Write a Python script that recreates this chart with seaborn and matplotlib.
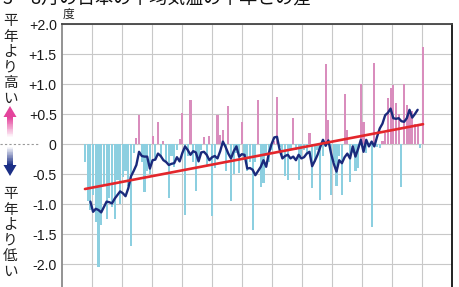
import numpy as np
import pandas as pd
import matplotlib
matplotlib.use("Agg")
import matplotlib.pyplot as plt
import seaborn as sns
from matplotlib.patches import Polygon, Rectangle
from matplotlib.lines import Line2D

# ---------------- data ----------------
years = list(range(1898, 2024))
anomaly = [
    -0.30, -0.95, -1.10, -0.85, -1.30, -2.05, -1.35, -0.70, -1.25, -0.90,
    -1.05, -1.25, -0.60, -1.00, -0.55, -0.45, -0.70, -1.70, -0.15, 0.10,
    0.48, -0.30, -0.80, -0.45, -0.50, 0.13, -0.25, 0.37, -0.20, 0.05,
    -0.30, -0.90, -0.20, -0.38, -0.10, 0.09, 0.51, -1.18, -0.20, 0.73,
    -0.30, -0.78, -0.25, -0.10, 0.12, -0.35, 0.13, -1.20, -0.40, 0.48,
    0.15, 0.23, -0.45, 0.63, -0.95, -0.50, -0.15, -0.49, 0.37, -0.25,
    -0.45, -0.30, -1.43, -0.30, 0.73, -0.71, -0.65, -0.20, -0.30, -0.10,
    0.05, 0.78, -0.05, -0.20, -0.54, -0.60, -0.10, 0.43, -0.10, -0.60,
    -0.20, -0.10, -0.15, 0.18, -0.74, -0.30, -0.10, -0.93, -0.20, 1.33,
    0.40, -0.85, -0.30, -0.70, -0.20, -0.85, 0.84, 0.23, -0.63, -0.15,
    -0.45, -0.40, 1.00, 0.37, -0.15, -0.05, -1.38, 1.35, -0.05, -0.07,
    0.05, 0.18, 0.77, 0.93, 0.98, 0.68, 0.50, -0.71, 1.00, 0.65,
    0.57, 0.55, 0.34, 0.30, -0.07, 1.62,
]
rm_years = list(range(1900, 2022))
running_mean = [
    -0.96, -1.13, -1.08, -1.10, -1.14, -1.05, -0.96, -0.97, -0.99, -0.91,
    -0.85, -0.79, -0.82, -0.87, -0.74, -0.54, -0.45, -0.35, -0.13, -0.20,
    -0.21, -0.21, -0.41, -0.27, -0.26, -0.16, -0.20, -0.27, -0.30, -0.35,
    -0.33, -0.32, -0.22, -0.29, -0.15, -0.04, -0.10, -0.18, -0.12, -0.14,
    -0.29, -0.14, -0.13, -0.18, -0.27, -0.22, -0.20, -0.24, -0.12, 0.04,
    -0.05, -0.16, -0.24, -0.12, -0.04, -0.21, -0.17, -0.18, -0.41, -0.40,
    -0.43, -0.52, -0.45, -0.38, -0.27, -0.38, -0.15, 0.00, 0.11, 0.12,
    -0.10, -0.24, -0.20, -0.18, -0.24, -0.21, -0.27, -0.18, -0.24, -0.22,
    -0.16, -0.13, -0.37, -0.28, -0.18, -0.05, 0.07, -0.03, 0.06, -0.16,
    -0.33, -0.46, -0.27, -0.32, -0.22, -0.16, -0.24, -0.04, -0.21, -0.08,
    0.07, -0.13, 0.07, -0.04, 0.04, -0.04, 0.12, 0.26, 0.34, 0.48,
    0.52, 0.59, 0.43, 0.42, 0.43, 0.38, 0.37, 0.43, 0.57, 0.44,
    0.50, 0.57,
]
trend_years = [1898, 2023]
trend_values = [-0.75, 0.33]
ytick_values = [2.0, 1.5, 1.0, 0.5, 0.0, -0.5, -1.0, -1.5, -2.0, -2.5]
ytick_labels = ["+2.0", "+1.5", "+1.0", "+0.5", "0", "-0.5", "-1.0", "-1.5", "-2.0", "-2.5"]
title_text = "3　8月の日本の平均気温の平年との差"
unit_text = "度"
upper_label = "平年より高い"
lower_label = "平年より低い"

# ---------------- style ----------------
sns.set_theme(style="white")
plt.rcParams["font.family"] = ["Liberation Sans", "Noto Sans CJK JP", "DejaVu Sans"]
JP = ["Noto Sans CJK JP", "DejaVu Sans"]

W, H = 460, 287
fig = plt.figure(figsize=(W / 100, H / 100), dpi=100)
fig.patch.set_facecolor("white")


def fx(px):
    return px / W


def fy(py):
    return 1 - py / H


# axes: left 62, right 452.5, top y=24 (=+2.0), 60 px per degree
ax = fig.add_axes([fx(62), fy(294), (452.5 - 62) / W, 270 / H])

df = pd.DataFrame({"year": years, "anomaly": anomaly})
df["sign"] = np.where(df["anomaly"] >= 0, "pos", "neg")
sns.barplot(data=df, x="year", y="anomaly", hue="sign",
            palette={"pos": "#d98dbd", "neg": "#8ccfe0"},
            native_scale=True, dodge=False, errorbar=None, legend=False,
            width=0.8, saturation=1, linewidth=0, ax=ax)
sns.lineplot(x=rm_years, y=running_mean, color="#1a2a7c", lw=1.7, ax=ax, zorder=4)
sns.lineplot(x=trend_years, y=trend_values, color="#e3262b", lw=1.9, ax=ax, zorder=5)

x0 = 1898 - 23 / 2.708
x1 = 2023 + 29.5 / 2.708
ax.set_xlim(x0, x1)
ax.set_ylim(-2.5, 2.0)
ax.set_xticks(np.linspace(x0, x1, 14)[1:-1])
ax.set_xticklabels([])
ax.set_yticks(ytick_values)
ax.set_yticklabels(ytick_labels)
ax.tick_params(axis="y", length=0, pad=3.8, labelsize=10.2, labelcolor="#1a1a1a")
ax.tick_params(axis="x", length=0)
ax.set_xlabel("")
ax.set_ylabel("")
ax.grid(True, color="#c8c8c8", lw=0.8)
ax.set_axisbelow(True)
ax.spines["left"].set_color("#8a8a8a")
ax.spines["left"].set_linewidth(1.3)
ax.spines["top"].set_color("#444444")
ax.spines["top"].set_linewidth(1.3)
ax.spines["right"].set_color("#111111")
ax.spines["right"].set_linewidth(1.3)
ax.spines["bottom"].set_visible(False)

# zero reference dotted line outside the axes on the left
fig.add_artist(Line2D([fx(0), fx(40)], [fy(144), fy(144)], color="#999999",
                      lw=0.8, ls=(0, (2, 2))))

# title (partially cut at the top) and unit
fig.text(fx(3), fy(4), title_text, fontsize=13, family=JP, va="baseline",
         ha="left", color="#111111")
fig.text(fx(63), fy(14.5), unit_text, fontsize=8.5, family=JP, va="center",
         ha="left", color="#222222")

# vertical side labels
for k, ch in enumerate(upper_label):
    fig.text(fx(10.5), fy(21 + 15.6 * k), ch, fontsize=10.5, family=JP,
             ha="center", va="center", color="#222222")
for k, ch in enumerate(lower_label):
    fig.text(fx(10.5), fy(194 + 15.6 * k), ch, fontsize=10.5, family=JP,
             ha="center", va="center", color="#222222")


def gradient_arrow(cx, tip_y, head_base_y, shaft_end_y, color):
    from matplotlib.colors import to_rgb
    c = np.array(to_rgb(color))
    white = np.array([1, 1, 1])
    n = 24
    hw, sw = 6.5, 2.6
    y_a, y_b = head_base_y, shaft_end_y
    for j in range(n):
        t0 = y_a + (y_b - y_a) * j / n
        t1 = y_a + (y_b - y_a) * (j + 1) / n
        frac = j / n
        col = c * (1 - frac) + white * frac
        top, bot = min(t0, t1), max(t0, t1)
        fig.add_artist(Rectangle((fx(cx - sw), fy(bot)), fx(2 * sw), (bot - top) / H,
                                 color=col, lw=0))
    fig.add_artist(Polygon([(fx(cx), fy(tip_y)), (fx(cx - hw), fy(head_base_y)),
                            (fx(cx + hw), fy(head_base_y))], closed=True,
                           color=c, lw=0))


gradient_arrow(10, 106, 117, 137, "#e4449c")
gradient_arrow(10, 176, 165, 147, "#1b2f86")

fig.savefig("out.png", dpi=100, facecolor="white")
